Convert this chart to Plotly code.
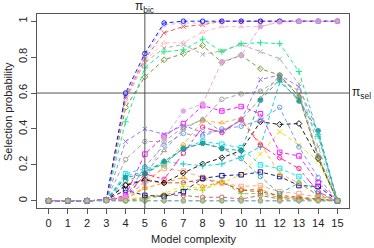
import plotly.graph_objects as go

x_vals = list(range(16))
x_ticks = [str(i) for i in range(16)]
y_ticks = [0, 0.2, 0.4, 0.6, 0.8, 1]
y_tick_labels = ["0", "0.2", "0.4", "0.6", "0.8", "1"]

s_blue = [0, 0, 0, 0.005, 0.60, 0.82, 0.99, 1.00, 1.00, 1.00, 1.00, 1.00, 1.00, 1.00, 1.00, 1.00]
s_lav = [0, 0, 0, 0.005, 0.59, 0.80, 0.98, 0.99, 0.99, 1.00, 1.00, 1.00, 1.00, 1.00, 1.00, 1.00]
s_red = [0, 0, 0, 0.005, 0.58, 0.79, 0.935, 0.97, 0.98, 1.00, 1.00, 1.00, 1.00, 1.00, 1.00, 1.00]
s_pink = [0, 0, 0, 0.005, 0.55, 0.78, 0.88, 0.88, 0.94, 0.97, 0.97, 0.97, 1.00, 1.00, 1.00, 1.00]
s_green = [0, 0, 0, 0.005, 0.44, 0.74, 0.83, 0.84, 0.90, 0.83, 0.875, 0.88, 0.875, 0.72, 0.37, 0]
s_olive = [0, 0, 0, 0.005, 0.52, 0.69, 0.785, 0.82, 0.865, 0.77, 0.81, 0.735, 0.70, 0.58, 0.24, 0]
s_grayx = [0, 0, 0, 0.005, 0.57, 0.77, 0.85, 0.87, 0.815, 0.835, 0.87, 0.83, 0.79, 0.65, 0.30, 0]
s_plum = [0, 0, 0, 0.005, 0.02, 0.10, 0.35, 0.50, 0.54, 0.775, 0.81, 0.97, 0.995, 1.00, 1.00, 1.00]
s_purple = [0, 0, 0, 0.005, 0.33, 0.40, 0.37, 0.42, 0.38, 0.39, 0.45, 0.675, 0.70, 0.635, 0.38, 0]
s_grayo = [0, 0, 0, 0.005, 0.23, 0.33, 0.33, 0.41, 0.45, 0.565, 0.595, 0.61, 0.68, 0.61, 0.25, 0]
s_teal = [0, 0, 0, 0.005, 0.13, 0.15, 0.22, 0.29, 0.32, 0.29, 0.28, 0.56, 0.675, 0.555, 0.39, 0]
s_magenta = [0, 0, 0, 0.005, 0.03, 0.26, 0.36, 0.43, 0.53, 0.50, 0.525, 0.485, 0.27, 0.25, 0.10, 0]
s_deeppink = [0, 0, 0, 0.005, 0.02, 0.15, 0.12, 0.265, 0.41, 0.38, 0.45, 0.31, 0.24, 0.18, 0.05, 0]
s_cornflower = [0, 0, 0, 0.005, 0.02, 0.19, 0.31, 0.375, 0.36, 0.40, 0.415, 0.45, 0.52, 0.30, 0.13, 0]
s_orange = [0, 0, 0, 0.005, 0.01, 0.08, 0.20, 0.315, 0.445, 0.435, 0.46, 0.32, 0.15, 0.10, 0.03, 0]
s_tan = [0, 0, 0, 0.005, 0.01, 0.15, 0.28, 0.40, 0.455, 0.385, 0.45, 0.57, 0.70, 0.58, 0.25, 0]
s_cyansq = [0, 0, 0, 0.005, 0.15, 0.18, 0.20, 0.295, 0.33, 0.315, 0.295, 0.20, 0.18, 0.135, 0.04, 0]
s_turq = [0, 0, 0, 0.005, 0.14, 0.16, 0.22, 0.205, 0.195, 0.205, 0.245, 0.30, 0.66, 0.57, 0.36, 0]
s_cadet = [0, 0, 0, 0.005, 0.11, 0.15, 0.21, 0.29, 0.32, 0.295, 0.235, 0.135, 0.04, 0.10, 0.03, 0]
s_black = [0, 0, 0, 0.005, 0.085, 0.115, 0.10, 0.155, 0.205, 0.24, 0.28, 0.44, 0.425, 0.43, 0.235, 0]
s_navy = [0, 0, 0, 0.005, 0.06, 0.03, 0.025, 0.05, 0.125, 0.14, 0.145, 0.16, 0.135, 0.085, 0.08, 0]
s_gold = [0, 0, 0, 0.005, 0.01, 0.02, 0.04, 0.085, 0.065, 0.10, 0.145, 0.26, 0.385, 0.31, 0.22, 0]
s_salmon = [0, 0, 0, 0.005, 0.01, 0.11, 0.18, 0.165, 0.13, 0.10, 0.08, 0.085, 0.05, 0.04, 0.02, 0]
s_darkorange = [0, 0, 0, 0.005, 0.01, 0.07, 0.10, 0.13, 0.08, 0.105, 0.06, 0.065, 0.02, 0.015, 0.01, 0]
s_sienna = [0, 0, 0, 0.005, 0.09, 0.12, 0.10, 0.10, 0.12, 0.10, 0.06, 0.05, 0.03, 0.02, 0.01, 0]
s_ygreen = [0, 0, 0, 0.005, 0.0, 0.01, 0.03, 0.065, 0.06, 0.11, 0.04, 0.04, 0.02, 0.01, 0.005, 0]
s_firebrick = [0, 0, 0, 0.005, 0.0, 0.02, 0.03, 0.03, 0.02, 0.02, 0.01, 0.03, 0.01, 0.01, 0.005, 0]
s_seagreen = [0, 0, 0, 0.0, 0.0, 0.0, 0.0, 0.0, 0.0, 0.0, 0.0, 0.0, 0.0, 0.0, 0.0, 0]
s_steel = [0, 0, 0, 0.0, 0.0, 0.0, 0.0, 0.0, 0.0, 0.0, 0.0, 0.0, 0.0, 0.0, 0.0, 0]

series = [
    (s_seagreen, "#8FBC8F", "circle", "dash"),
    (s_firebrick, "#CD5555", "circle-open", "dash"),
    (s_ygreen, "#7CCD32", "cross-thin-open", "dash"),
    (s_darkorange, "#FF8C00", "triangle-up-open", "dash"),
    (s_sienna, "#A0522D", "circle-open", "dash"),
    (s_salmon, "#FFA07A", "square-open", "dash"),
    (s_gold, "#FFD700", "x-thin-open", "dash"),
    (s_navy, "#00008B", "square-open", "dash"),
    (s_black, "#000000", "diamond-open", "dash"),
    (s_cadet, "#2AA5A5", "circle-open", "dash"),
    (s_turq, "#00CED1", "cross-thin-open", "dash"),
    (s_cyansq, "#00E5EE", "square-open", "dash"),
    (s_tan, "#9C8C7A", "triangle-up-open", "dash"),
    (s_orange, "#FFAA22", "triangle-up-open", "dash"),
    (s_cornflower, "#6495ED", "circle-open", "dash"),
    (s_deeppink, "#FF1493", "circle-open", "dashdot"),
    (s_magenta, "#FF00FF", "square-open", "dash"),
    (s_teal, "#1A9A9A", "circle", "dash"),
    (s_grayo, "#999999", "circle-open", "dash"),
    (s_purple, "#8470FF", "x-thin-open", "dash"),
    (s_grayx, "#A9A9A9", "x-thin-open", "dash"),
    (s_olive, "#6B8E23", "diamond-open", "dash"),
    (s_green, "#00EE76", "cross-thin-open", "dash"),
    (s_pink, "#FFB6C1", "triangle-up-open", "dash"),
    (s_red, "#FF4040", "x-thin-open", "dash"),
    (s_lav, "#C0C0F0", "circle-open", "dash"),
    (s_blue, "#0000FF", "circle-open", "dash"),
    (s_plum, "#DDA0DD", "circle", "dash"),
]

fig = go.Figure()
for vals, col, sym, dash in series:
    fig.add_trace(go.Scatter(
        x=x_vals, y=vals, mode="lines+markers",
        line=dict(color=col, width=1, dash="4px,3px" if dash == "dash" else "dashdot"),
        marker=dict(symbol=sym, size=4.5, color=col, line=dict(color=col, width=1)),
        opacity=0.9, showlegend=False, hoverinfo="skip",
    ))

fig.add_trace(go.Scatter(
    x=x_vals, y=s_steel, mode="lines+markers",
    line=dict(color="#6CA6CD", width=1, dash="4px,3px"),
    marker=dict(symbol="circle", size=4.5, color="#E8C040", line=dict(color="#6CA6CD", width=1)),
    showlegend=False, hoverinfo="skip",
))

fig.add_shape(type="line", xref="x", yref="paper", x0=5, x1=5, y0=0, y1=1,
              line=dict(color="#555555", width=1))
fig.add_shape(type="line", xref="paper", yref="y", x0=0, x1=1, y0=0.6, y1=0.6,
              line=dict(color="#555555", width=1))

fig.add_annotation(x=5, y=1, xref="x", yref="paper", yanchor="bottom", yshift=-2,
                   text="π<sub>bic</sub>", showarrow=False, borderpad=0,
                   font=dict(size=12, color="#222222"))
fig.add_annotation(x=1, y=0.6, xref="paper", yref="y", xanchor="left", xshift=1,
                   text="π<sub>sel</sub>", showarrow=False,
                   font=dict(size=12, color="#222222"))
fig.add_annotation(x=0.5, y=-0.16, xref="paper", yref="paper", yanchor="middle",
                   text="Model complexity", showarrow=False,
                   font=dict(size=11, color="#222222"))
fig.add_annotation(x=-0.093, y=0.5, xref="paper", yref="paper", xanchor="center",
                   textangle=-90, text="Selection probability", showarrow=False,
                   font=dict(size=11, color="#222222"))

fig.update_layout(
    width=374, height=248,
    margin=dict(l=37, r=25, t=14, b=40, autoexpand=False),
    paper_bgcolor="white", plot_bgcolor="white",
    font=dict(family="Liberation Sans, Arial, sans-serif", size=11, color="#222222"),
    xaxis=dict(range=[-0.6, 15.6], tickmode="array", tickvals=x_vals, ticktext=x_ticks,
               ticks="outside", ticklen=5, tickcolor="#555555", automargin=False,
               showline=True, mirror=True, linecolor="#555555", linewidth=1,
               showgrid=False, zeroline=False),
    yaxis=dict(range=[-0.04, 1.04], tickmode="array", tickvals=y_ticks, ticktext=y_tick_labels,
               tickangle=-90, automargin=False,
               ticks="outside", ticklen=5, tickcolor="#555555",
               showline=True, mirror=True, linecolor="#555555", linewidth=1,
               showgrid=False, zeroline=False),
)

fig.write_html("out.html", config={"displayModeBar": False},
               post_script="document.body.style.margin='0';document.body.style.overflow='hidden';")
